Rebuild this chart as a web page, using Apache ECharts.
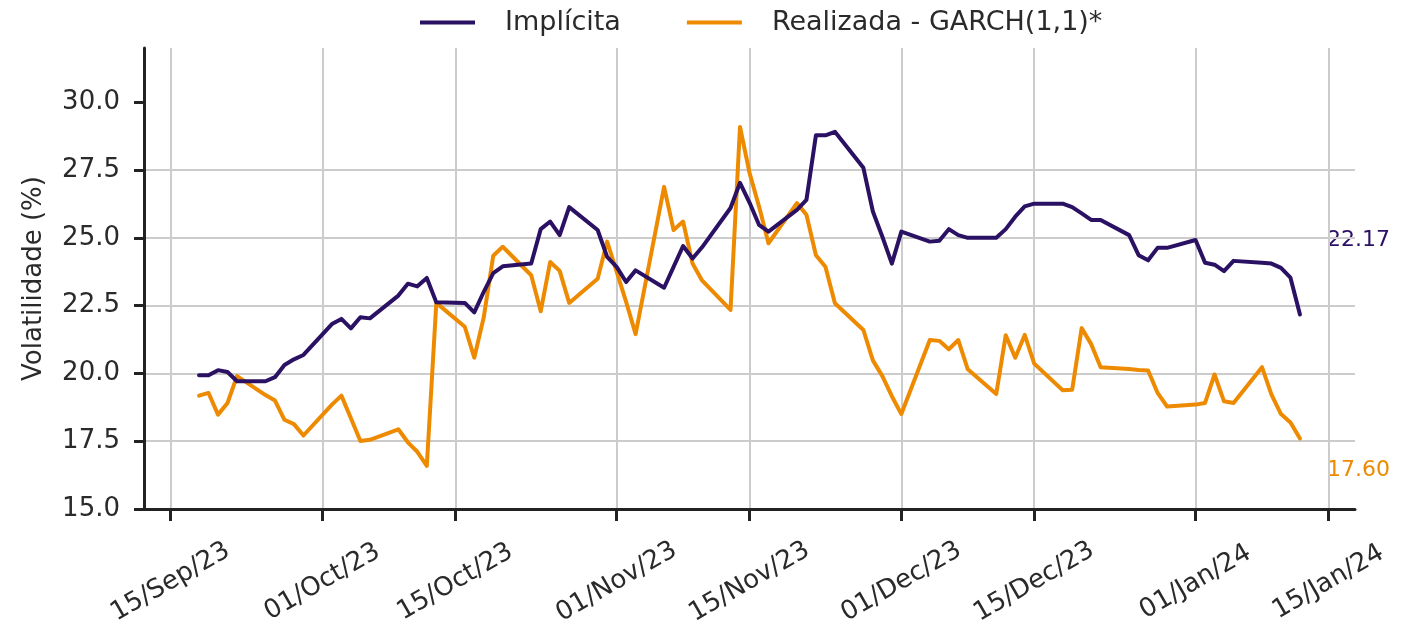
<!DOCTYPE html>
<html>
<head>
<meta charset="utf-8">
<script src="https://cdn.jsdelivr.net/npm/echarts@6/dist/echarts.min.js"></script>
<style>html,body{margin:0;padding:0;background:#fff}#c{width:1407px;height:642px}</style>
</head>
<body>
<div id="c"></div>
<script>
const dates = [
  '2023-09-18','2023-09-19','2023-09-20','2023-09-21','2023-09-22','2023-09-25','2023-09-26','2023-09-27','2023-09-28','2023-09-29',
  '2023-10-02','2023-10-03','2023-10-04','2023-10-05','2023-10-06','2023-10-09','2023-10-10','2023-10-11','2023-10-12','2023-10-13',
  '2023-10-16','2023-10-17','2023-10-18','2023-10-19','2023-10-20','2023-10-23','2023-10-24','2023-10-25','2023-10-26','2023-10-27',
  '2023-10-30','2023-10-31',
  '2023-11-01','2023-11-02','2023-11-03','2023-11-06','2023-11-07','2023-11-08','2023-11-09','2023-11-10','2023-11-13','2023-11-14',
  '2023-11-15','2023-11-16','2023-11-17','2023-11-20','2023-11-21','2023-11-22','2023-11-23','2023-11-24','2023-11-27','2023-11-28',
  '2023-11-29','2023-11-30',
  '2023-12-01','2023-12-04','2023-12-05','2023-12-06','2023-12-07','2023-12-08','2023-12-11','2023-12-12','2023-12-13','2023-12-14',
  '2023-12-15','2023-12-18','2023-12-19','2023-12-20','2023-12-21','2023-12-22','2023-12-25','2023-12-26','2023-12-27','2023-12-28',
  '2023-12-29',
  '2024-01-01','2024-01-02','2024-01-03','2024-01-04','2024-01-05','2024-01-08','2024-01-09','2024-01-10','2024-01-11','2024-01-12'
];
const implicita = [
  19.93,19.93,20.12,20.05,19.71,19.71,19.86,20.31,20.52,20.68,
  21.82,22.01,21.66,22.07,22.03,22.87,23.31,23.21,23.52,22.62,
  22.60,22.25,23.01,23.70,23.95,24.05,25.32,25.60,25.10,26.13,
  25.29,24.30,
  23.93,23.37,23.80,23.16,23.93,24.70,24.24,24.65,26.10,27.03,
  26.30,25.48,25.23,26.03,26.40,28.78,28.78,28.91,27.58,25.97,
  25.04,24.05,
  25.23,24.86,24.89,25.32,25.10,25.00,25.00,25.32,25.78,26.16,
  26.26,26.26,26.13,25.90,25.66,25.66,25.10,24.36,24.17,24.63,
  24.63,
  24.92,24.08,24.01,23.77,24.15,24.08,24.05,23.89,23.53,22.17
];
const realizada = [
  19.18,19.28,18.48,18.91,19.90,19.20,19.00,18.29,18.13,17.71,
  18.85,19.18,18.35,17.51,17.55,17.94,17.46,17.11,16.59,22.60,
  21.72,20.58,22.07,24.34,24.67,23.62,22.29,24.11,23.78,22.60,
  23.49,24.86,
  23.75,22.64,21.45,26.88,25.29,25.60,24.05,23.43,22.34,29.09,
  27.40,26.16,24.80,26.28,25.85,24.36,23.93,22.59,21.60,20.48,
  19.90,19.16,
  18.50,21.23,21.20,20.89,21.23,20.15,19.24,21.41,20.58,21.42,
  20.36,19.38,19.40,21.67,21.08,20.23,20.16,20.13,20.11,19.28,
  18.78,
  18.85,18.91,19.96,18.97,18.91,20.23,19.22,18.50,18.19,17.60
];
const xTickDates = ['2023-09-15','2023-10-01','2023-10-15','2023-11-01','2023-11-15','2023-12-01','2023-12-15','2024-01-01','2024-01-15'];
const yTicks = [15, 17.5, 20, 22.5, 25, 27.5, 30];
const seriesNames = ['Implícita', 'Realizada - GARCH(1,1)*'];
const yName = 'Volatilidade (%)';

const PURPLE = '#2a1163';
const ORANGE = '#ee8a00';
const FONT = 'DejaVu Sans';
const TXT = '#2a2a2a';
const FS = 26;
const MON = ['Jan','Feb','Mar','Apr','May','Jun','Jul','Aug','Sep','Oct','Nov','Dec'];

function ts(s){ const p = s.split('-').map(Number); return new Date(p[0], p[1]-1, p[2]).getTime(); }
function fmt(v){ const d = new Date(v); return String(d.getDate()).padStart(2,'0') + '/' + MON[d.getMonth()] + '/' + String(d.getFullYear()).slice(2); }

const t0 = ts(dates[0]), t1 = ts(dates[dates.length-1]);
const pad = (t1 - t0) * 0.05;
const xTicks = xTickDates.map(ts);

const chart = echarts.init(document.getElementById('c'), null, {renderer: 'canvas'});
chart.setOption({
  animation: false,
  backgroundColor: '#fff',
  textStyle: {fontFamily: FONT},
  grid: {left: 144, right: 52, top: 48, bottom: 133, containLabel: false},
  legend: {
    top: 4, left: 415, icon: 'rect', itemWidth: 55, itemHeight: 4, itemGap: 66,
    textStyle: {fontSize: 27, color: TXT, fontFamily: FONT, padding: [0,0,0,25]},
    data: seriesNames
  },
  xAxis: {
    type: 'value', min: t0 - pad, max: t1 + pad, scale: true,
    axisLine: {show: true, onZero: false, lineStyle: {color: '#222', width: 3}},
    axisTick: {show: true, customValues: xTicks, length: 12, lineStyle: {color: '#222', width: 3}},
    axisLabel: {customValues: xTicks, formatter: fmt, rotate: 30, align: 'center', verticalAlign: 'middle',
      margin: 73, fontSize: FS, color: TXT, fontFamily: FONT, hideOverlap: false},
    splitLine: {show: true, lineStyle: {color: '#cccccc', width: 2}}
  },
  yAxis: {
    type: 'value', min: 15, max: 32, interval: 2.5,
    name: yName, nameLocation: 'middle', nameGap: 97,
    nameTextStyle: {fontSize: FS, color: TXT, fontFamily: FONT},
    axisLine: {show: true, lineStyle: {color: '#222', width: 3}},
    axisTick: {show: true, customValues: yTicks, length: 10, lineStyle: {color: '#222', width: 3}},
    axisLabel: {customValues: yTicks, formatter: v => v.toFixed(1), margin: 24, fontSize: FS, color: TXT, fontFamily: FONT},
    splitLine: {show: true, showMaxLine: false, lineStyle: {color: '#cccccc', width: 2}}
  },
  series: [
    {name: seriesNames[0], type: 'line', showSymbol: false, symbol: 'none', color: PURPLE,
     lineStyle: {width: 4, color: PURPLE, cap: 'round', join: 'round'},
     data: dates.map((d,i) => [ts(d), implicita[i]]), z: 3},
    {name: seriesNames[1], type: 'line', showSymbol: false, symbol: 'none', color: ORANGE,
     lineStyle: {width: 4, color: ORANGE, cap: 'round', join: 'round'},
     data: dates.map((d,i) => [ts(d), realizada[i]]), z: 2}
  ],
  graphic: [
    {type: 'text', right: 17, top: 229, style: {text: implicita[implicita.length-1].toFixed(2), fill: PURPLE, font: '22px ' + FONT}},
    {type: 'text', right: 17, top: 459, style: {text: realizada[realizada.length-1].toFixed(2), fill: ORANGE, font: '22px ' + FONT}}
  ]
});
</script>
</body>
</html>
